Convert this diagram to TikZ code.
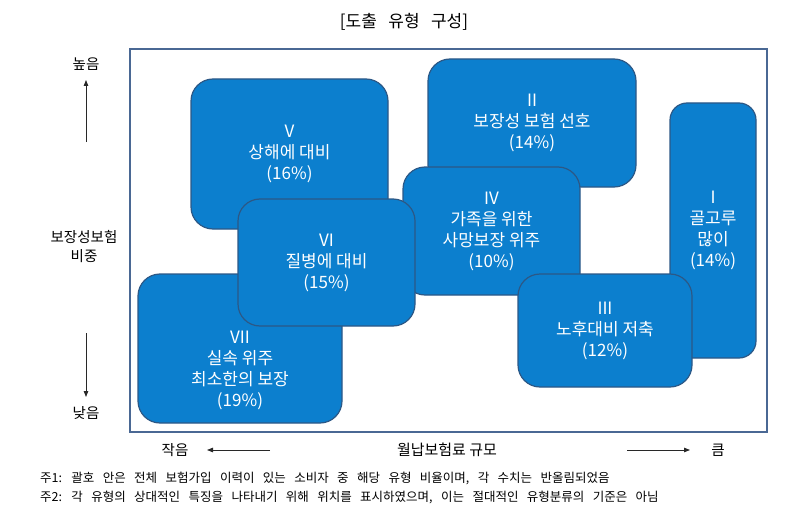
\documentclass[tikz,border=0pt]{standalone}
\usepackage{fontspec}
\setmainfont{Noto Sans CJK KR}
\newfontfamily\notafont[WordSpace=2.7]{Noto Sans CJK KR}
\newfontfamily\titfont[WordSpace=3]{Noto Sans CJK KR}
\usetikzlibrary{arrows.meta}
\definecolor{azul}{RGB}{12,127,206}
\definecolor{borde}{RGB}{44,88,134}
\definecolor{marco}{RGB}{74,104,148}
\definecolor{flecha}{RGB}{40,40,40}
\tikzset{%
    caja/.style={rectangle, rounded corners=22pt, fill=azul, draw=borde, line width=1.2pt, text=white, align=center, inner sep=0pt, font=\fontsize{17}{21}\selectfont},
    txtc/.style={text=white, align=center, inner sep=0pt, font=\fontsize{17}{21}\selectfont},
    eti/.style={inner sep=0pt, align=center, font=\fontsize{14.5}{19}\selectfont},
    nota/.style={inner sep=0pt, anchor=west, font=\notafont\fontsize{12.5}{14}\selectfont},
    marc/.style={draw=marco, line width=1.6pt},
    seca/.style={draw=flecha, line width=0.8pt, -{Triangle[length=6pt, width=4.5pt]}},
}
\begin{document}
\begin{tikzpicture}[x=1pt, y=-1pt]
    \useasboundingbox (0,0) rectangle (800,524);
    \node[inner sep=0pt, font=\titfont\fontsize{17}{19}\selectfont] (titulo) at (404,22) {[도출 유형 구성]};
    \draw [marc](130,49) rectangle (767,432);
    % cajas de los tipos
    \node[caja, minimum width=197pt, minimum height=150pt] (tipoV) at (289.5,154) {V\\상해에 대비\\(16\%)};
    \node[caja, minimum width=208pt, minimum height=128pt] (tipoII) at (532,123) {II\\보장성 보험 선호\\(14\%)};
    \node[caja, rounded corners=17pt, minimum width=86pt, minimum height=255pt] (tipoI) at (713,230.5) {I\\골고루\\많이\\(14\%)};
    \node[caja, minimum width=177pt, minimum height=128pt] (tipoIV) at (491.5,231) {IV\\가족을 위한\\사망보장 위주\\(10\%)};
    \node[caja, minimum width=204pt, minimum height=149pt] (tipoVII) at (240,348.5) {};
    \node[txtc] (txtVII) at (240,370.5) {VII\\실속 위주\\최소한의 보장\\(19\%)};
    \node[caja, minimum width=177pt, minimum height=127pt] (tipoVI) at (326.5,262.5) {VI\\질병에 대비\\(15\%)};
    \node[caja, minimum width=174pt, minimum height=113pt] (tipoIII) at (605,330.5) {III\\노후대비 저축\\(12\%)};
    % ejes
    \node[eti] (alto) at (86,64) {높음};
    \node[eti] (peso) at (84,246.5) {보장성보험\\비중};
    \node[eti] (bajo) at (86,413) {낮음};
    \node[eti] (chico) at (175,450) {작음};
    \node[eti, font=\fontsize{15}{17}\selectfont] (prima) at (447,450) {월납보험료 규모};
    \node[eti] (grande) at (718,450) {큼};
    \coordinate (a1) at (86,142);
    \coordinate (a2) at (86,333);
    \coordinate (a3) at (270,450);
    \coordinate (a4) at (627,450);
    \draw [seca](a1)--(86,80);
    \draw [seca](a2)--(86,397);
    \draw [seca](a3)--(207,450);
    \draw [seca](a4)--(690,450);
    % notas
    \node[nota] (nota1) at (40,478) {주1: 괄호 안은 전체 보험가입 이력이 있는 소비자 중 해당 유형 비율이며, 각 수치는 반올림되었음};
    \node[nota] (nota2) at (40,497) {주2: 각 유형의 상대적인 특징을 나타내기 위해 위치를 표시하였으며, 이는 절대적인 유형분류의 기준은 아님};
\end{tikzpicture}
\end{document}
